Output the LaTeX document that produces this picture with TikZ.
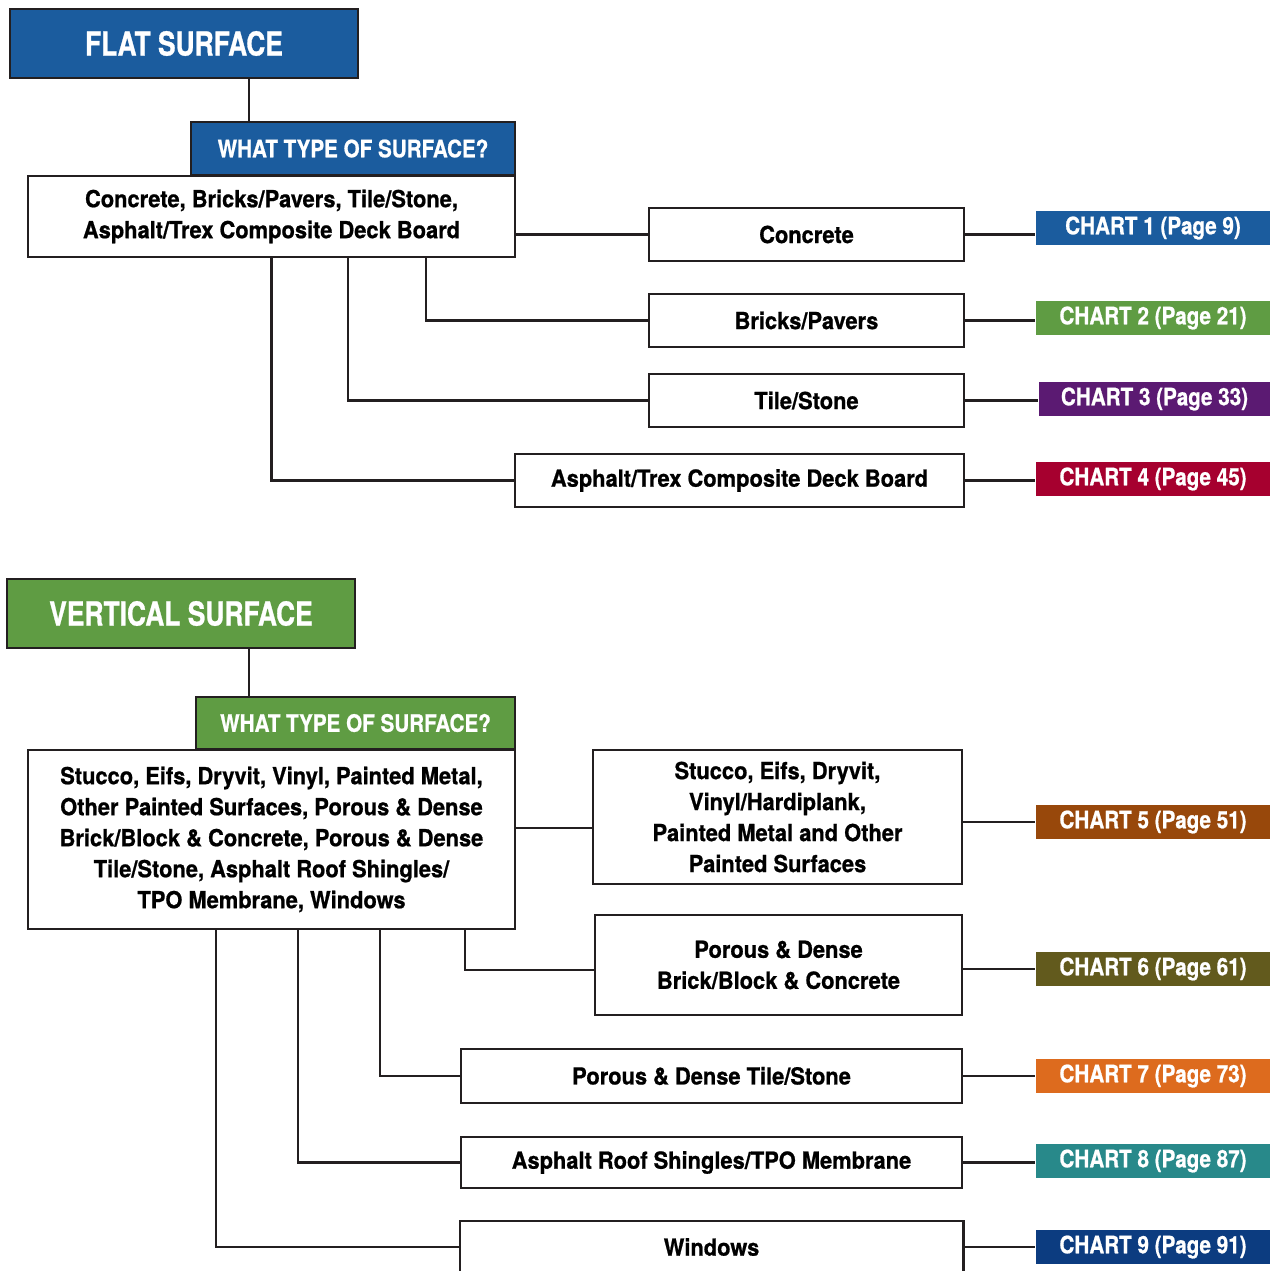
\documentclass[tikz,border=0pt]{standalone}
\usepackage{fontspec}
\setmainfont{TeX Gyre Heros}[FakeStretch=0.8, BoldFeatures={FakeBold=0.8}]
\newfontfamily\bodyfont{TeX Gyre Heros}[FakeStretch=0.93, BoldFeatures={FakeBold=0.8}]
\newfontfamily\chartfont{TeX Gyre Heros}[FakeStretch=0.86, BoldFeatures={FakeBold=0.8}]
\usepackage{tikz}
\usetikzlibrary{positioning,calc}
\usepackage{xcolor}

\definecolor{edgegray}{HTML}{231F20}
\definecolor{flatblue}{HTML}{1B5C9E}
\definecolor{vertgreen}{HTML}{5F9C43}
\definecolor{chartpurple}{HTML}{5B1A72}
\definecolor{chartred}{HTML}{A6002F}
\definecolor{chartbrown}{HTML}{98480B}
\definecolor{chartolive}{HTML}{625A1D}
\definecolor{chartorange}{HTML}{DD6B1E}
\definecolor{chartteal}{HTML}{28898A}
\definecolor{chartnavy}{HTML}{0C3C80}

\begin{document}
\begin{tikzpicture}[
        x=1pt, y=-1pt,
        line width=2.5pt,
        head/.style={
            rectangle,
            draw=edgegray,
            text=white,
            inner sep=0pt,
            font=\fontsize{33}{36}\selectfont\bfseries
        },
        question/.style={
            rectangle,
            draw=edgegray,
            text=white,
            inner sep=0pt,
            font=\chartfont\fontsize{24}{28}\selectfont\bfseries
        },
        listbox/.style={
            rectangle,
            draw=edgegray,
            fill=white,
            align=center,
            inner sep=0pt,
            font=\bodyfont\fontsize{23.5}{31}\selectfont\bfseries
        },
        item/.style={
            rectangle,
            draw=edgegray,
            fill=white,
            align=center,
            inner sep=0pt,
            font=\bodyfont\fontsize{23.5}{31}\selectfont\bfseries
        },
        chart/.style={
            rectangle,
            text=white,
            inner sep=0pt,
            minimum width=234,
            minimum height=34,
            font=\chartfont\fontsize{24}{28}\selectfont\bfseries
        },
        line/.style={
            draw=edgegray,
            line width=2.5pt
        }
    ]
    \useasboundingbox (0,0) rectangle (1270,1271);

    % Flat surface
    \node [head, fill=flatblue, minimum width=348, minimum height=69] (flat) at (184,43.5) {FLAT SURFACE};
    \node [question, fill=flatblue, minimum width=324, minimum height=53] (flatq) at (353,148.5) {WHAT TYPE OF SURFACE?};
    \node [listbox, minimum width=487, minimum height=81] (flatlist) at (271.5,216.5)
        {Concrete, Bricks/Pavers, Tile/Stone,\\Asphalt/Trex Composite Deck Board};

    \node [item, minimum width=315, minimum height=53] (concrete) at (806.5,234.5) {Concrete};
    \node [item, minimum width=315, minimum height=53] (bricks) at (806.5,320.5) {Bricks/Pavers};
    \node [item, minimum width=315, minimum height=53] (tile) at (806.5,400.5) {Tile/Stone};
    \node [item, minimum width=449, minimum height=53] (asphalt) at (739.5,480.5) {Asphalt/Trex Composite Deck Board};

    \node [chart, fill=flatblue] (chart1) at (1153,228) {CHART 1 (Page 9)};
    \node [chart, fill=vertgreen] (chart2) at (1153,318) {CHART 2 (Page 21)};
    \node [chart, fill=chartpurple, minimum width=231] (chart3) at (1154.5,399) {CHART 3 (Page 33)};
    \node [chart, fill=chartred] (chart4) at (1153,479) {CHART 4 (Page 45)};

    % Vertical surface
    \node [head, fill=vertgreen, minimum width=348, minimum height=69] (vert) at (181,613.5) {VERTICAL SURFACE};
    \node [question, fill=vertgreen, minimum width=319, minimum height=52] (vertq) at (355.5,723) {WHAT TYPE OF SURFACE?};
    \node [listbox, minimum width=487, minimum height=179] (vertlist) at (271.5,839.5)
        {Stucco, Eifs, Dryvit, Vinyl, Painted Metal,\\Other Painted Surfaces, Porous \& Dense\\Brick/Block \& Concrete, Porous \& Dense\\Tile/Stone, Asphalt Roof Shingles/\\TPO Membrane, Windows};

    \node [item, minimum width=369, minimum height=134] (stucco) at (777.5,817) {Stucco, Eifs, Dryvit,\\Vinyl/Hardiplank,\\Painted Metal and Other\\Painted Surfaces};
    \node [item, minimum width=367, minimum height=100] (brick) at (778.5,965) {Porous \& Dense\\Brick/Block \& Concrete};
    \node [item, minimum width=501, minimum height=54] (vtile) at (711.5,1076) {Porous \& Dense Tile/Stone};
    \node [item, minimum width=501, minimum height=51] (roof) at (711.5,1162.5) {Asphalt Roof Shingles/TPO Membrane};
    \node [item, draw=none, minimum width=501, minimum height=50] (windows) at (711.5,1247) {Windows};
    \draw [edgegray] (windows.west |- windows.south) ++(0,40) |- (windows.north east) -- ++(0,66);

    \node [chart, fill=chartbrown] (chart5) at (1153,822) {CHART 5 (Page 51)};
    \node [chart, fill=chartolive] (chart6) at (1153,969) {CHART 6 (Page 61)};
    \node [chart, fill=chartorange] (chart7) at (1153,1076) {CHART 7 (Page 73)};
    \node [chart, fill=chartteal] (chart8) at (1153,1161) {CHART 8 (Page 87)};
    \node [chart, fill=chartnavy] (chart9) at (1153,1247) {CHART 9 (Page 91)};

    % Connections
    \path [line] (flat.south -| flatq.north west) ++(59,0) coordinate (flatdrop);
    \path [line] (flatdrop) -- (flatdrop |- flatq.north);
    \path [line] (flatlist.east |- concrete.west) -- (concrete.west);
    \path [line] ($(flatlist.south)+(154.5,0)$) |- (bricks.west);
    \path [line] ($(flatlist.south)+(76.5,0)$) |- (tile.west);
    \path [line] (flatlist.south) |- (asphalt.west);

    \path [line] (concrete.east) -- (concrete.east -| chart1.west);
    \path [line] (bricks.east) -- (bricks.east -| chart2.west);
    \path [line] (tile.east) -- (tile.east -| chart3.west);
    \path [line] (asphalt.east) -- (asphalt.east -| chart4.west);

    \path [line] (vert.south -| vertq.north west) ++(54,0) coordinate (vertdrop);
    \path [line] (vertdrop) -- (vertdrop |- vertq.north);
    \path [line] ($(vertlist.east |- stucco.west)+(0,11)$) -- ($(stucco.west)+(0,11)$);
    \path [line] ($(vertlist.south)+(193.5,0)$) |- ($(brick.west)+(0,5)$);
    \path [line] ($(vertlist.south)+(108.5,0)$) |- (vtile.west);
    \path [line] ($(vertlist.south)+(26.5,0)$) |- (roof.west);
    \path [line] ($(vertlist.south)+(-55.5,0)$) |- (windows.west);

    \path [line] (chart5.west -| stucco.east) -- (chart5.west);
    \path [line] (chart6.west -| brick.east) -- (chart6.west);
    \path [line] (vtile.east) -- (vtile.east -| chart7.west);
    \path [line] (roof.east) -- (roof.east -| chart8.west);
    \path [line] (windows.east) -- (windows.east -| chart9.west);

\end{tikzpicture}
\end{document}
